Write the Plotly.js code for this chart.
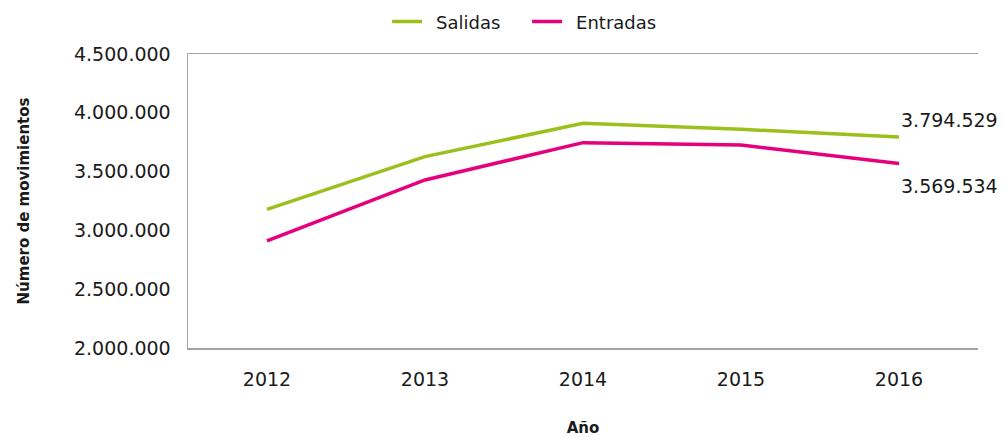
<!DOCTYPE html>
<html>
<head>
<meta charset="utf-8">
<script src="https://cdn.plot.ly/plotly-3.0.1.min.js"></script>
<style>html,body{margin:0;padding:0;background:#fff;}#chart{width:1006px;height:437px;}</style>
</head>
<body>
<div id="chart"></div>
<script>
var years = ['2012', '2013', '2014', '2015', '2016'];
var salidas = [3179000, 3627000, 3911000, 3860000, 3794529];
var entradas = [2910000, 3429000, 3746000, 3726000, 3569534];
var yTicks = [2000000, 2500000, 3000000, 3500000, 4000000, 4500000];
var seriesNames = ['Salidas', 'Entradas'];
var seriesColors = ['#9BC01C', '#E5007D'];

var FONT = 'DejaVu Sans, sans-serif';

function fmt(v) {
  return String(v).replace(/\B(?=(\d{3})+(?!\d))/g, '.');
}

var traces = [
  {x: years, y: salidas, name: '\u2002' + seriesNames[0], type: 'scatter', mode: 'lines',
   line: {color: seriesColors[0], width: 3.5}},
  {x: years, y: entradas, name: '\u2002' + seriesNames[1], type: 'scatter', mode: 'lines',
   line: {color: seriesColors[1], width: 3.5}}
];

var last = years.length - 1;
var layout = {
  width: 1006, height: 437,
  margin: {l: 188, r: 28, t: 54, b: 89},
  paper_bgcolor: '#fff', plot_bgcolor: '#fff',
  separators: ',.',
  font: {family: FONT, size: 19, color: '#1a1a1a'},
  showlegend: true,
  legend: {orientation: 'h', x: 0.252, xanchor: 'left', y: 0.95, yanchor: 'middle',
           yref: 'container', entrywidth: 95, entrywidthmode: 'pixels',
           font: {family: FONT, size: 18, color: '#1a1a1a'}},
  xaxis: {
    type: 'category', range: [-0.5, 4.5],
    showline: true, mirror: true, linecolor: '#A3A3A3', linewidth: 1.5,
    showgrid: false, zeroline: false, ticks: '', ticklabelstandoff: 14,
    tickfont: {family: FONT, size: 19, color: '#1a1a1a'},
    title: {text: '<b>Año</b>', font: {family: FONT, size: 15, color: '#1a1a1a'}, standoff: 38}
  },
  yaxis: {
    range: [2000000, 4500000],
    tickvals: yTicks, ticktext: yTicks.map(fmt),
    showline: true, linecolor: '#A3A3A3', linewidth: 1.5,
    showgrid: false, zeroline: false, ticks: '', ticklabelstandoff: 12,
    tickfont: {family: FONT, size: 19, color: '#1a1a1a'},
    title: {text: '<b>Número de movimientos</b>', font: {family: FONT, size: 15, color: '#1a1a1a'}, standoff: 40}
  },
  annotations: [
    {x: last, y: salidas[last], xref: 'x', yref: 'y', text: fmt(salidas[last]),
     showarrow: false, xanchor: 'left', yanchor: 'middle', yshift: 17, xshift: 0,
     font: {family: FONT, size: 19, color: '#1a1a1a'}},
    {x: last, y: entradas[last], xref: 'x', yref: 'y', text: fmt(entradas[last]),
     showarrow: false, xanchor: 'left', yanchor: 'middle', yshift: -23, xshift: 0,
     font: {family: FONT, size: 19, color: '#1a1a1a'}}
  ]
};

Plotly.newPlot('chart', traces, layout, {displayModeBar: false, staticPlot: true});
</script>
</body>
</html>
